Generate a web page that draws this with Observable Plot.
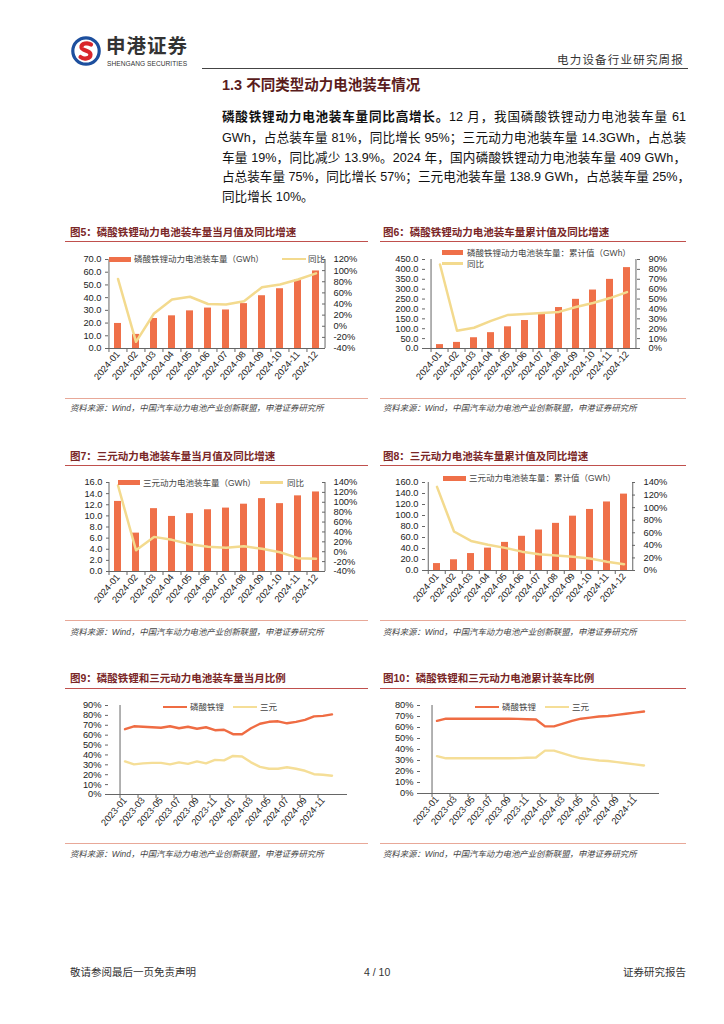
<!DOCTYPE html>
<html><head><meta charset="utf-8">
<script src="https://cdn.jsdelivr.net/npm/d3@7"></script>
<script src="https://cdn.jsdelivr.net/npm/@observablehq/plot@0.6"></script>
<style>
body{margin:0;background:#fff;}
#page{position:relative;width:724px;height:1024px;overflow:hidden;font-family:"Liberation Sans","Noto Sans CJK SC",sans-serif;color:#222;background:#fff;}
.abs{position:absolute;white-space:nowrap;line-height:1;}
.ftitle{font-size:10.5px;font-weight:bold;color:#7a2626;}
.src{font-size:8.4px;font-style:italic;color:#444;}
.leg{font-size:8.5px;color:#444;}
.para{position:absolute;left:222px;width:464px;font-size:12.6px;line-height:1;white-space:nowrap;text-align:justify;text-align-last:justify;color:#111;}
.para b{font-weight:bold;}
</style></head>
<body><div id="page"></div>
<script>
// ---------------- DATA ----------------
const months = ["2024-01","2024-02","2024-03","2024-04","2024-05","2024-06","2024-07","2024-08","2024-09","2024-10","2024-11","2024-12"];
const lfpMonthly    = [19.7, 11.1, 23.6, 25.7, 29.6, 31.8, 30.3, 35.3, 41.5, 47.0, 53.9, 61.0];
const lfpMonthlyYoy = [85, -28, 23, 48, 53, 40, 39, 45, 70, 75, 84, 95];
const lfpCum        = [19.7, 30.8, 54.4, 80.1, 109.7, 141.5, 171.8, 207.1, 248.6, 295.6, 349.5, 409.0];
const lfpCumYoy     = [85, 18, 21, 28, 34, 35, 36, 37, 42, 46, 51, 57];
const nmcMonthly    = [12.6, 6.9, 11.3, 9.9, 10.4, 11.1, 11.4, 12.1, 13.1, 12.2, 13.6, 14.3];
const nmcMonthlyYoy = [134, 3, 30, 24, 15, 10, 8, 11, 6, -1, -13, -14];
const nmcCum        = [12.6, 19.5, 30.8, 40.7, 51.1, 62.2, 73.6, 85.7, 98.8, 111.0, 124.6, 138.9];
const nmcCumYoy     = [133, 62, 47, 41, 36, 30, 26, 24, 22, 19, 14, 10];

const months24 = ["2023-01","2023-02","2023-03","2023-04","2023-05","2023-06","2023-07","2023-08","2023-09","2023-10","2023-11","2023-12",
                  "2024-01","2024-02","2024-03","2024-04","2024-05","2024-06","2024-07","2024-08","2024-09","2024-10","2024-11","2024-12"];
const months24Ticks = ["2023-01","2023-03","2023-05","2023-07","2023-09","2023-11","2024-01","2024-03","2024-05","2024-07","2024-09","2024-11"];
const lfpShareMonthly = [66, 69, 68.5, 68, 67.5, 69, 67, 68.5, 66.5, 68, 65, 65.5, 61, 61, 67, 71.5, 73.5, 74, 72, 73.5, 75.5, 79, 79.5, 81];
const nmcShareMonthly = [33.5, 30.5, 31.5, 32, 32, 30.5, 32.5, 31, 33.5, 31.5, 35, 34.5, 39, 38.5, 32.5, 28, 26, 26, 27.5, 26, 24, 20.5, 20, 19];
const lfpShareCum = [66, 68, 68, 68, 68, 68, 68, 68, 68, 67.8, 67.5, 67.3, 61, 61, 63.5, 66, 68, 69, 70, 70.5, 71.5, 72.5, 73.5, 74.5];
const nmcShareCum = [34, 32, 32, 32, 32, 32, 32, 32, 32, 32.2, 32.5, 32.7, 39, 39, 36.5, 34, 32, 31, 30, 29.5, 28.5, 27.5, 26.5, 25.5];

const ticksL5 = [0,10,20,30,40,50,60,70],          ticksR5 = [-40,-20,0,20,40,60,80,100,120];
const ticksL6 = [0,50,100,150,200,250,300,350,400,450], ticksR6 = [0,10,20,30,40,50,60,70,80,90];
const ticksL7 = [0,2,4,6,8,10,12,14,16],           ticksR7 = [-40,-20,0,20,40,60,80,100,120,140];
const ticksL8 = [0,20,40,60,80,100,120,140,160],   ticksR8 = [0,20,40,60,80,100,120,140];
const ticks9 = [0,10,20,30,40,50,60,70,80,90];
const ticks10 = [0,10,20,30,40,50,60,70,80];

// ---------------- STYLE ----------------
const BAR = "#ef7049", LINE = "#f3da8e", RED = "#ef6c43", YEL = "#f5de97", AX = "#666";
const page = document.getElementById("page");
function add(tag, css, html, cls){ const e=document.createElement(tag); e.style.cssText=css; if(cls) e.className=cls; if(html!=null) e.innerHTML=html; page.appendChild(e); return e; }
function txt(x,y,html,cls,extra=""){ return add("div",`left:${x}px;top:${y}px;transform:translateY(-50%);${extra}`,html,"abs "+(cls||"")); }
function hline(x1,x2,y,color,w=1){ add("div",`position:absolute;left:${x1}px;top:${y}px;width:${x2-x1}px;height:0;border-top:${w}px solid ${color};`); }
function swatchBar(x,y,w){ add("div",`position:absolute;left:${x}px;top:${y-2.5}px;width:${w}px;height:5px;background:${BAR};`); }
function swatchLine(x,y,w,c){ add("div",`position:absolute;left:${x}px;top:${y-1.25}px;width:${w}px;height:2.5px;background:${c};`); }
function place(svg,left,top,w,h,z){ const d=add("div",`position:absolute;left:${left}px;top:${top}px;width:${w}px;height:${h}px;z-index:${z};`); d.appendChild(svg); }

const baseStyle = {fontSize:"9.3px", fontFamily:'"Liberation Sans", Arial, sans-serif', color:"#222", background:"transparent", overflow:"visible"};

function dual(c){
  const iw=c.w-c.mL-c.mR, step=iw/c.x.length;
  const bars=c.x.map((m,i)=>({m,v:c.bars[i]}));
  const line=c.x.map((m,i)=>({m,v:c.line[i]}));
  const common={width:c.w,height:c.h,marginLeft:c.mL,marginRight:c.mR,marginTop:c.mT,marginBottom:c.mB,style:baseStyle};
  const xopt={type:"band",domain:c.x,paddingInner:0.6,paddingOuter:0.3};
  const a=Plot.plot({...common,x:xopt,y:{domain:c.yL},marks:[
    Plot.barY(bars,{x:"m",y:"v",fill:BAR}),
    Plot.ruleY([c.yL[0]],{stroke:AX}),
    Plot.ruleX([c.x[0]],{dx:-step/2,stroke:AX}),
    Plot.axisY({anchor:"left",ticks:c.tL,tickFormat:d=>d.toFixed(1),tickSize:3,tickPadding:4,label:null,stroke:AX}),
    Plot.axisX({tickRotate:-50,tickSize:0,tickPadding:4,label:null}),
    Plot.axisX({ticks:c.x,tickSize:4,tickFormat:()=>"",dx:-step/2,label:null,stroke:AX})
  ]});
  const b=Plot.plot({...common,x:{...xopt,axis:null},y:{domain:c.yR},marks:[
    Plot.line(line,{x:"m",y:"v",stroke:LINE,strokeWidth:2.5}),
    Plot.ruleX([c.x[c.x.length-1]],{dx:step/2,stroke:AX}),
    Plot.ruleY(c.tR,{insetLeft:iw-3,stroke:AX}),
    Plot.axisY({anchor:"right",ticks:c.tR,tickFormat:d=>d+"%",tickSize:0,tickPadding:8,label:null})
  ]});
  place(a,c.left,c.top,c.w,c.h,1); place(b,c.left,c.top,c.w,c.h,2);
}

function share(c){
  const iw=c.w-c.mL-c.mR, step=iw/c.x.length;
  const d1=c.x.map((m,i)=>({m,v:c.a[i]}));
  const d2=c.x.map((m,i)=>({m,v:c.b[i]}));
  const p=Plot.plot({width:c.w,height:c.h,marginLeft:c.mL,marginRight:c.mR,marginTop:c.mT,marginBottom:c.mB,style:baseStyle,
    x:{type:"band",domain:c.x,padding:0},y:{domain:c.y},marks:[
    Plot.ruleY([c.y[0]],{stroke:AX}),
    Plot.ruleX([c.x[0]],{dx:-step/2,stroke:AX}),
    Plot.line(d1,{x:"m",y:"v",stroke:RED,strokeWidth:2.4}),
    Plot.line(d2,{x:"m",y:"v",stroke:YEL,strokeWidth:2.4}),
    Plot.axisY({anchor:"left",ticks:c.t,tickFormat:d=>d+"%",tickSize:3,tickPadding:4,label:null,stroke:AX}),
    Plot.axisX({ticks:c.xt,tickRotate:-50,tickSize:0,tickPadding:4,label:null}),
    Plot.axisX({ticks:c.xt,tickSize:4,tickFormat:()=>"",dx:-step/2,label:null,stroke:AX})
  ]});
  place(p,c.left,c.top,c.w,c.h,1);
}

// ---------------- HEADER ----------------
add("div","position:absolute;left:71px;top:36px;width:30px;height:30px;",
 `<svg width="30" height="30" viewBox="0 0 30 30"><circle cx="15" cy="15" r="13.2" fill="none" stroke="#1d4f9e" stroke-width="3.2"/>
  <path d="M20 8.5 C17 6.5 10 7 10.5 11.5 C11 15 19.5 14 19.5 18.5 C19.5 23 12.5 23.5 9.5 21" fill="none" stroke="#d9262b" stroke-width="4.2" stroke-linecap="round"/></svg>`);
txt(106,45,"申港证券","",'font-family:"Noto Sans CJK SC";font-weight:bold;font-size:19.5px;color:#333;letter-spacing:1px;');
txt(107,63.5,"SHENGANG SECURITIES","",'font-size:6.6px;color:#333;letter-spacing:0.05px;');
txt(557,60,"电力设备行业研究周报","",'font-family:"Noto Sans CJK SC";font-size:11.5px;color:#333;letter-spacing:1.2px;');
hline(202,688,67.5,"#444",1.3);

// ---------------- SECTION TEXT ----------------
txt(222,85,"1.3 不同类型动力电池装车情况","",'font-weight:bold;font-size:14.5px;color:#5a1c1c;');
const paraLines = [
  "<b>磷酸铁锂动力电池装车量同比高增长。</b>12 月，我国磷酸铁锂动力电池装车量 61",
  "GWh，占总装车量 81%，同比增长 95%；三元动力电池装车量 14.3GWh，占总装",
  "车量 19%，同比减少 13.9%。2024 年，国内磷酸铁锂动力电池装车量 409 GWh，",
  "占总装车量 75%，同比增长 57%；三元电池装车量 138.9 GWh，占总装车量 25%，",
  "同比增长 10%。"
];
const paraY=[117,137.6,157.5,177.3,196.8];
paraLines.forEach((l,i)=>{ add("div",`top:${paraY[i]}px;transform:translateY(-50%);`+(i===4?"text-align-last:left;":""),l,"para"); });

// ---------------- FIGURE FRAMES ----------------
const srcText="资料来源：Wind，中国汽车动力电池产业创新联盟，申港证券研究所";
function frame(x1,x2,tx,title,yT,yL,ySrcL,ySrc){
  txt(tx,yT,title,"ftitle");
  hline(x1,x2,yL,"#c0504d",1);
  hline(x1,x2,ySrcL,"#e8a898",1);
  txt(tx,ySrc,srcText,"src");
}
frame(65,368,70,"图5：磷酸铁锂动力电池装车量当月值及同比增速",231.5,241,397.5,408);
frame(380,686,383,"图6：磷酸铁锂动力电池装车量累计值及同比增速",231.5,241,397.5,408);
frame(65,368,70,"图7：三元动力电池装车量当月值及同比增速",455.5,464.5,620,631.5);
frame(380,686,383,"图8：三元动力电池装车量累计值及同比增速",455.5,464.5,620,631.5);
frame(65,368,70,"图9：磷酸铁锂和三元动力电池装车量当月比例",678,687.5,843,854);
frame(380,686,383,"图10：磷酸铁锂和三元动力电池累计装车比例",678,687.5,843,854);

// ---------------- CHARTS ----------------
dual({left:60,top:250,w:310,h:138,mL:48,mR:45,mT:9,mB:40,x:months,bars:lfpMonthly,line:lfpMonthlyYoy,yL:[0,70],yR:[-40,120],tL:ticksL5,tR:ticksR5});
dual({left:377,top:250,w:308,h:138,mL:48,mR:45,mT:9,mB:40,x:months,bars:lfpCum,line:lfpCumYoy,yL:[0,450],yR:[0,90],tL:ticksL6,tR:ticksR6});
dual({left:61,top:473,w:309,h:138,mL:48,mR:45,mT:9,mB:40,x:months,bars:nmcMonthly,line:nmcMonthlyYoy,yL:[0,16],yR:[-40,140],tL:ticksL7,tR:ticksR7});
dual({left:377,top:473,w:303,h:137,mL:48,mR:45,mT:9,mB:40,x:months,bars:nmcCum,line:nmcCumYoy,yL:[0,160],yR:[0,140],tL:ticksL8,tR:ticksR8});
share({left:60,top:696,w:297,h:143,mL:48,mR:10,mT:9,mB:45,x:months24,xt:months24Ticks,a:lfpShareMonthly,b:nmcShareMonthly,y:[0,90],t:ticks9});
share({left:372,top:696,w:297,h:142,mL:48,mR:10,mT:9,mB:45,x:months24,xt:months24Ticks,a:lfpShareCum,b:nmcShareCum,y:[0,80],t:ticks10});

// ---------------- LEGENDS ----------------
swatchBar(109,259,22); txt(134,259,"磷酸铁锂动力电池装车量（GWh）","leg","z-index:5;");
swatchLine(282,259,24,LINE); txt(308,259,"同比","leg","z-index:5;");
swatchBar(442,252.5,21); txt(467,252.5,"磷酸铁锂动力电池装车量：累计值（GWh）","leg","z-index:5;");
swatchLine(442,263.5,21,LINE); txt(467,263.5,"同比","leg","z-index:5;");
swatchBar(118,482.5,22); txt(143,482.5,"三元动力电池装车量（GWh）","leg","z-index:5;");
swatchLine(260,482.5,23,LINE); txt(287,482.5,"同比","leg","z-index:5;");
swatchBar(443,478,23); txt(469,478,"三元动力电池装车量：累计值（GWh）","leg","z-index:5;");
swatchLine(163,707,24,RED); txt(190,707,"磷酸铁锂","leg","z-index:5;");
swatchLine(233,707,24,YEL); txt(260,707,"三元","leg","z-index:5;");
swatchLine(475,707,24,RED); txt(502,707,"磷酸铁锂","leg","z-index:5;");
swatchLine(545,707,24,YEL); txt(572,707,"三元","leg","z-index:5;");
Array.from(page.children).forEach(e=>{ if(!e.style.zIndex) e.style.zIndex=5; });

// ---------------- FOOTER ----------------
txt(70,972,"敬请参阅最后一页免责声明","",'font-family:"Noto Sans CJK SC";font-size:10.5px;color:#333;');
txt(364,972,"4 / 10","",'font-size:10.5px;color:#333;');
txt(623,972,"证券研究报告","",'font-family:"Noto Sans CJK SC";font-size:10.5px;color:#333;');
</script></body></html>
